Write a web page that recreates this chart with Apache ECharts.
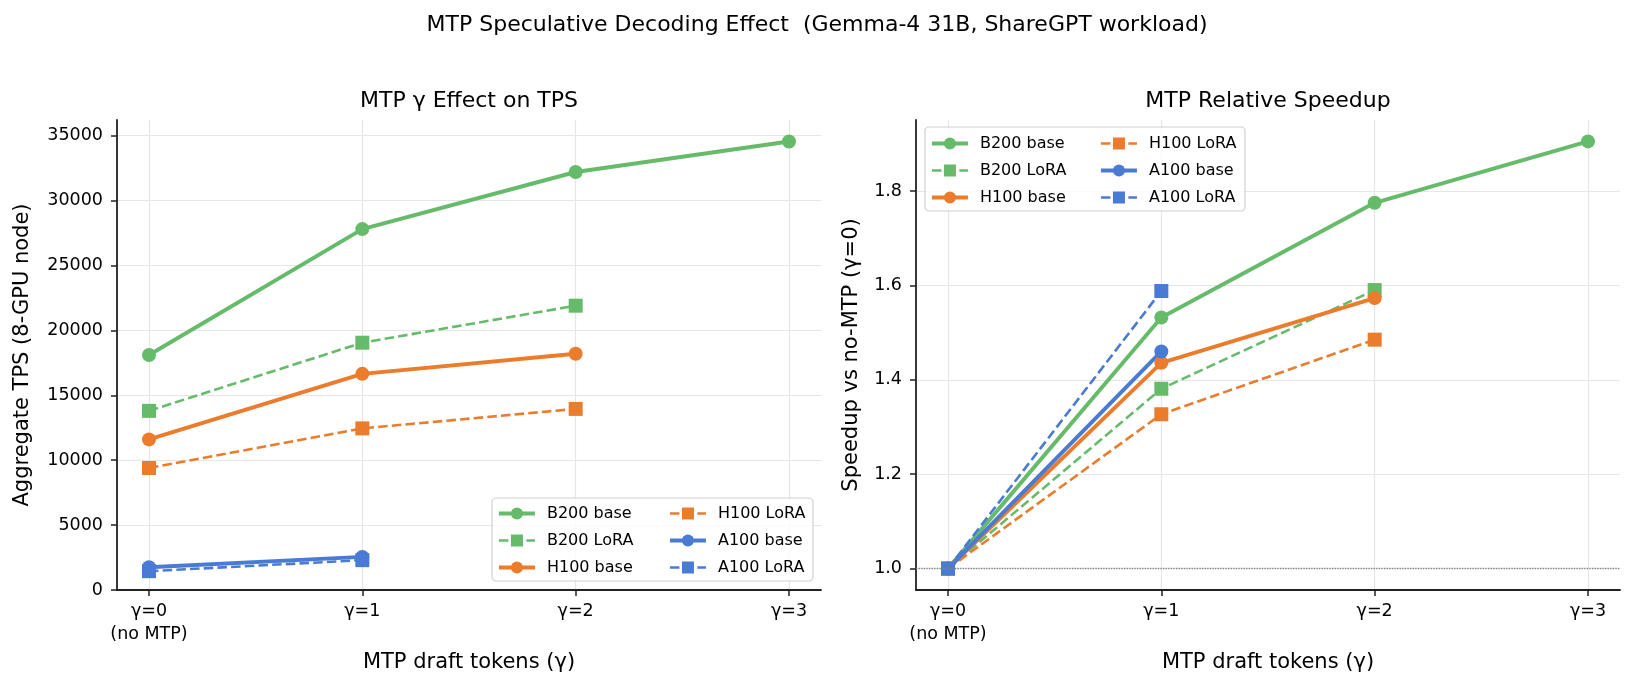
<!DOCTYPE html>
<html><head><meta charset="utf-8">
<script src="https://cdn.jsdelivr.net/npm/echarts@6/dist/echarts.min.js"></script>
<style>html,body{margin:0;padding:0;background:#fff}#c{width:1635px;height:689px}</style>
</head><body><div id="c"></div>
<script>
// ---- data ----
const xVals = [0, 1, 2, 3];
const xTickLabels = ['γ=0\n(no MTP)', 'γ=1', 'γ=2', 'γ=3'];
const leftYTicks = [0, 5000, 10000, 15000, 20000, 25000, 30000, 35000];
const rightYTicks = [1.0, 1.2, 1.4, 1.6, 1.8];
const baselineSpeedup = 1.0;

const seriesNames = ['B200 base', 'B200 LoRA', 'H100 base', 'H100 LoRA', 'A100 base', 'A100 LoRA'];

const tpsB200Base = [18100, 27800, 32200, 34550];
const tpsB200Lora = [13800, 19050, 21900];
const tpsH100Base = [11600, 16650, 18200];
const tpsH100Lora = [9400, 12450, 13950];
const tpsA100Base = [1750, 2550];
const tpsA100Lora = [1450, 2300];

const spdB200Base = [1.0, 1.532, 1.775, 1.905];
const spdB200Lora = [1.0, 1.381, 1.590];
const spdH100Base = [1.0, 1.436, 1.573];
const spdH100Lora = [1.0, 1.327, 1.485];
const spdA100Base = [1.0, 1.460];
const spdA100Lora = [1.0, 1.588];

// ---- styles ----
const GREEN = '#66bb6a', ORANGE = '#ea7c2c', BLUE = '#4a7bd4';
const FONT = 'DejaVu Sans';
const defs = [
  {name: seriesNames[0], color: GREEN,  lora: false, tps: tpsB200Base, spd: spdB200Base},
  {name: seriesNames[1], color: GREEN,  lora: true,  tps: tpsB200Lora, spd: spdB200Lora},
  {name: seriesNames[2], color: ORANGE, lora: false, tps: tpsH100Base, spd: spdH100Base},
  {name: seriesNames[3], color: ORANGE, lora: true,  tps: tpsH100Lora, spd: spdH100Lora},
  {name: seriesNames[4], color: BLUE,   lora: false, tps: tpsA100Base, spd: spdA100Base},
  {name: seriesNames[5], color: BLUE,   lora: true,  tps: tpsA100Lora, spd: spdA100Lora}
];

function mkSeries(d, vals, idx, extra) {
  return Object.assign({
    type: 'line', name: d.name, xAxisIndex: idx, yAxisIndex: idx,
    data: vals.map((v, i) => [xVals[i], v]),
    symbol: d.lora ? 'rect' : 'circle',
    symbolSize: 14,
    showSymbol: true,
    itemStyle: {color: d.color},
    lineStyle: {color: d.color, width: d.lora ? 2.6 : 3.9, type: d.lora ? [9.5, 4.2] : 'solid'},
    emphasis: {disabled: true},
    animation: false
  }, extra || {});
}

const series = [];
defs.forEach(d => series.push(mkSeries(d, d.tps, 0)));
defs.forEach((d, i) => series.push(mkSeries(d, d.spd, 1, i === 0 ? {
  markLine: {
    silent: true, symbol: 'none', label: {show: false}, animation: false,
    lineStyle: {type: 'dotted', color: '#808080', width: 1.3},
    emphasis: {disabled: true},
    data: [{yAxis: baselineSpeedup}]
  }
} : {})));

function xAxisOpt(idx) {
  return {
    type: 'value', gridIndex: idx, min: -0.15, max: 3.15,
    name: 'MTP draft tokens (γ)', nameLocation: 'middle', nameGap: 62, nameMoveOverlap: false,
    nameTextStyle: {fontFamily: FONT, fontSize: 21, color: '#000'},
    axisLine: {show: true, onZero: false, lineStyle: {color: '#222', width: 1.8}},
    axisTick: {show: true, customValues: xVals, length: 6, lineStyle: {color: '#222', width: 1.5}},
    axisLabel: {customValues: xVals, formatter: v => xTickLabels[xVals.indexOf(Math.round(v))],
      fontFamily: FONT, fontSize: 17.5, lineHeight: 23, margin: 10, color: '#000'},
    splitLine: {show: true, lineStyle: {color: '#e6e6e6', width: 1.2}}
  };
}
function yAxisOpt(idx, min, max, ticks, fmt, name, gap) {
  return {
    type: 'value', gridIndex: idx, min: min, max: max,
    name: name, nameLocation: 'middle', nameGap: gap, nameMoveOverlap: false,
    nameTextStyle: {fontFamily: FONT, fontSize: 21, color: '#000'},
    axisLine: {show: true, onZero: false, lineStyle: {color: '#222', width: 1.8}},
    axisTick: {show: true, customValues: ticks, length: 6, lineStyle: {color: '#222', width: 1.5}},
    axisLabel: {customValues: ticks, formatter: fmt, fontFamily: FONT, fontSize: 17.5, margin: 14, color: '#000'},
    splitLine: {show: true, lineStyle: {color: '#e6e6e6', width: 1.2}}
  };
}

function legendOpt(left, top, names) {
  return {
    orient: 'vertical', left: left, top: top, padding: 0,
    itemWidth: 36, itemHeight: 15, itemGap: 11, selectedMode: false,
    data: names, z: 10,
    lineStyle: {width: 'inherit'},
    textStyle: {fontFamily: FONT, fontSize: 16, color: '#000', lineHeight: 15, padding: [0, 0, 0, 7]}
  };
}

const option = {
  backgroundColor: '#fff',
  animation: false,
  grid: [
    {left: 117, top: 120, width: 704, height: 470, outerBoundsMode: 'none', containLabel: false},
    {left: 916, top: 120, width: 704, height: 470, outerBoundsMode: 'none', containLabel: false}
  ],
  xAxis: [xAxisOpt(0), xAxisOpt(1)],
  yAxis: [
    yAxisOpt(0, 0, 36205, leftYTicks, v => String(Math.round(v)), 'Aggregate TPS (8-GPU node)', 84),
    yAxisOpt(1, 0.9547, 1.9503, rightYTicks, v => v.toFixed(1), 'Speedup vs no-MTP (γ=0)', 54)
  ],
  legend: [
    legendOpt(497, 505.5, seriesNames.slice(0, 3)),
    legendOpt(668, 505.5, seriesNames.slice(3)),
    legendOpt(930, 135.5, seriesNames.slice(0, 3)),
    legendOpt(1099, 135.5, seriesNames.slice(3))
  ],
  graphic: [
    {type: 'text', x: 817, y: 25, z: 10, style: {text: 'MTP Speculative Decoding Effect  (Gemma-4 31B, ShareGPT workload)',
      font: '22px "DejaVu Sans"', fill: '#000', align: 'center', verticalAlign: 'middle'}},
    {type: 'text', x: 469, y: 101, z: 10, style: {text: 'MTP γ Effect on TPS',
      font: '22px "DejaVu Sans"', fill: '#000', align: 'center', verticalAlign: 'middle'}},
    {type: 'text', x: 1268, y: 101, z: 10, style: {text: 'MTP Relative Speedup',
      font: '22px "DejaVu Sans"', fill: '#000', align: 'center', verticalAlign: 'middle'}},
    {type: 'rect', z: 8, shape: {x: 492, y: 498, width: 321, height: 83, r: 4},
      style: {fill: 'rgba(255,255,255,0.8)', stroke: '#d0d0d0', lineWidth: 1.2}},
    {type: 'rect', z: 8, shape: {x: 925, y: 127, width: 320, height: 84, r: 4},
      style: {fill: 'rgba(255,255,255,0.8)', stroke: '#d0d0d0', lineWidth: 1.2}}
  ],
  series: series
};

const chart = echarts.init(document.getElementById('c'), null, {renderer: 'canvas'});
chart.setOption(option);
</script>
</body></html>
